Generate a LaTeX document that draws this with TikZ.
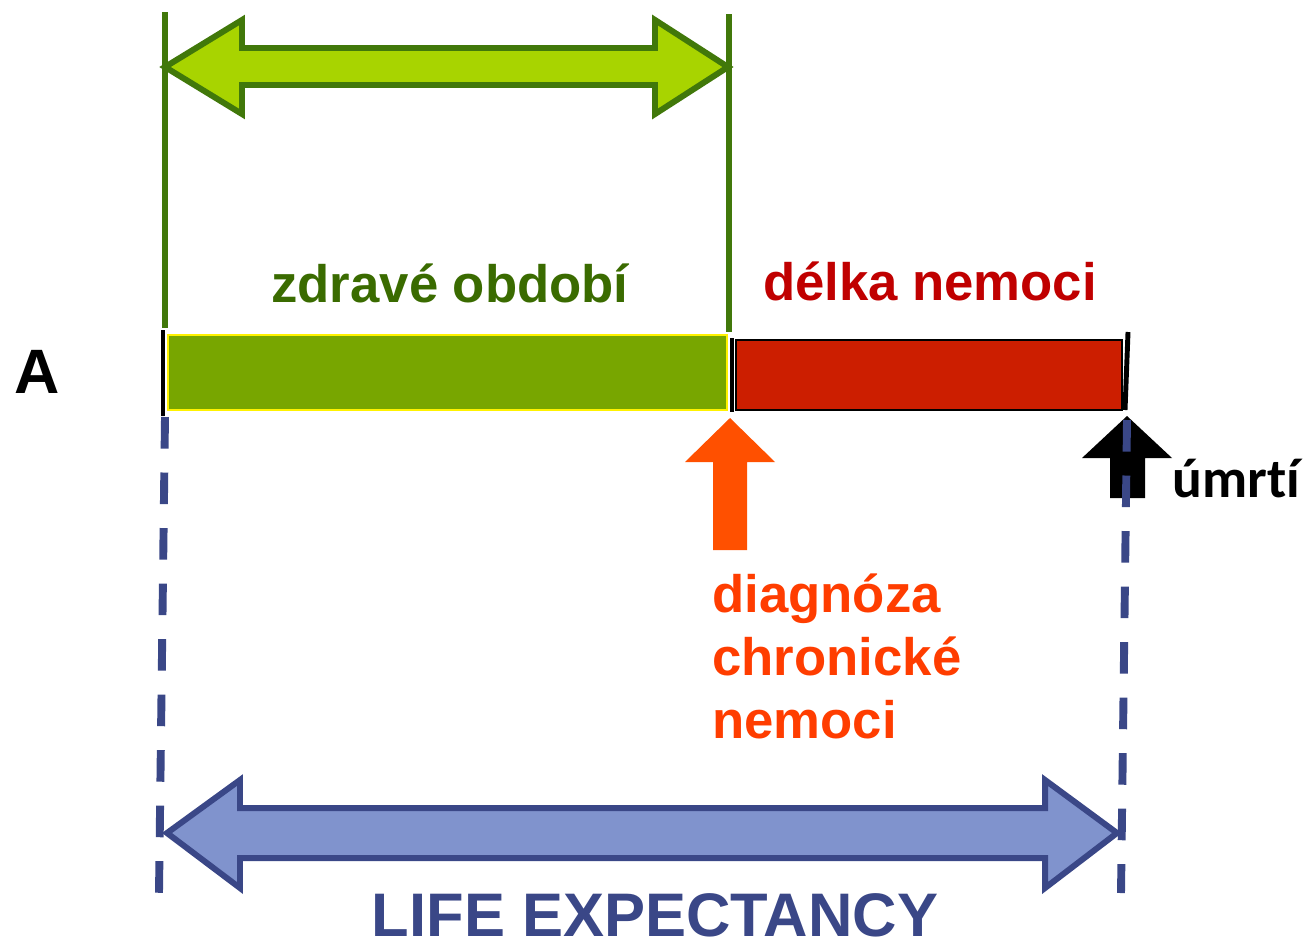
\documentclass[tikz,border=0pt]{standalone}
\usepackage{fontspec}
\setmainfont{Liberation Sans}
\newfontfamily\calibrifont[Ligatures=NoCommon]{Carlito}
\definecolor{leafdark}{HTML}{41780A}
\definecolor{leaflight}{HTML}{A8D400}
\definecolor{healthbar}{HTML}{78A600}
\definecolor{sickbar}{HTML}{CC1E00}
\definecolor{sicktext}{HTML}{C00000}
\definecolor{greentext}{HTML}{3A6B00}
\definecolor{diagarrow}{HTML}{FF5000}
\definecolor{diagtext}{HTML}{FF3D00}
\definecolor{lifedark}{HTML}{3A4787}
\definecolor{lifelight}{HTML}{8093CD}
\begin{document}
\begin{tikzpicture}[x=0.02cm,y=-0.02cm,
    bigtext/.style={font=\bfseries\fontsize{30}{36}\selectfont,inner sep=0pt},
    tick/.style={draw=black,line width=2.8pt},
    limit/.style={draw=leafdark,line width=3.4pt},
    lifeline/.style={draw=lifedark,line width=4.5pt,dash pattern=on 18pt off 13.6pt}]
  \useasboundingbox (0,0) rectangle (1307,943);
  % healthy period arrow
  \filldraw[fill=leaflight,draw=leafdark,line width=3.4pt,line join=miter]
    (165,67) -- (242,20) -- (242,48) -- (655,48) -- (655,20) -- (728,67)
    -- (655,114) -- (655,85) -- (242,85) -- (242,114) -- cycle;
  \coordinate (g1) at (165,12);
  \coordinate (g2) at (165,328);
  \coordinate (g3) at (729,14);
  \coordinate (g4) at (729,332);
  \draw[limit] (g1) -- (g2);
  \draw[limit] (g3) -- (g4);
  % bars
  \node[bigtext,text=greentext,anchor=base] (healthy) at (450,302) {zdravé období};
  \node[bigtext,text=sicktext,anchor=base] (ill) at (930,300) {délka nemoci};
  \node[font=\bfseries\fontsize{35.7}{40}\selectfont,inner sep=0pt,anchor=base] (A) at (37,393) {A};
  \fill[healthbar] (168,335) rectangle (727,410);
  \draw[yellow,line width=0.8pt] (168,335) rectangle (727,410);
  \filldraw[fill=sickbar,draw=black,line width=0.8pt] (736,340) rectangle (1122,410);
  \coordinate (t1) at (163,330);
  \coordinate (t2) at (163,416);
  \coordinate (t3) at (732,338);
  \coordinate (t4) at (732,412);
  \coordinate (t5) at (1128,332);
  \coordinate (t6) at (1125,410);
  \draw[tick] (t1) -- (t2);
  \draw[tick] (t3) -- (t4);
  \draw[tick] (t5) -- (t6);
  % diagnosis and death
  \fill[diagarrow] (730,418) -- (775,462) -- (747,462) -- (747,550)
    -- (713,550) -- (713,462) -- (685,462) -- cycle;
  \node[bigtext,text=diagtext,align=left,anchor=base west,
    font=\bfseries\fontsize{30}{35.7}\selectfont] (diag) at (712,738)
    {diagnóza\\chronické\\nemoci};
  \fill[black] (1127,416) -- (1172,458) -- (1145,458) -- (1145,498)
    -- (1110,498) -- (1110,458) -- (1082,458) -- cycle;
  \node[font=\calibrifont\bfseries\fontsize{31.6}{36}\selectfont,inner sep=0pt,anchor=base west] (death) at (1172,497) {úmrtí};
  % life expectancy
  \coordinate (b1) at (165,417);
  \coordinate (b2) at (159,893);
  \coordinate (b3) at (1127,420);
  \coordinate (b4) at (1121,893);
  \draw[lifeline] (b1) -- (b2);
  \draw[lifeline] (b3) -- (b4);
  \filldraw[fill=lifelight,draw=lifedark,line width=3.4pt,line join=miter]
    (167,833) -- (240,780) -- (240,808) -- (1045,808) -- (1045,780) -- (1117,833)
    -- (1045,888) -- (1045,858) -- (240,858) -- (240,888) -- cycle;
  \node[font=\bfseries\fontsize{35}{40}\selectfont,text=lifedark,inner sep=0pt,anchor=base] (life) at (655,936) {LIFE EXPECTANCY};
\end{tikzpicture}
\end{document}
